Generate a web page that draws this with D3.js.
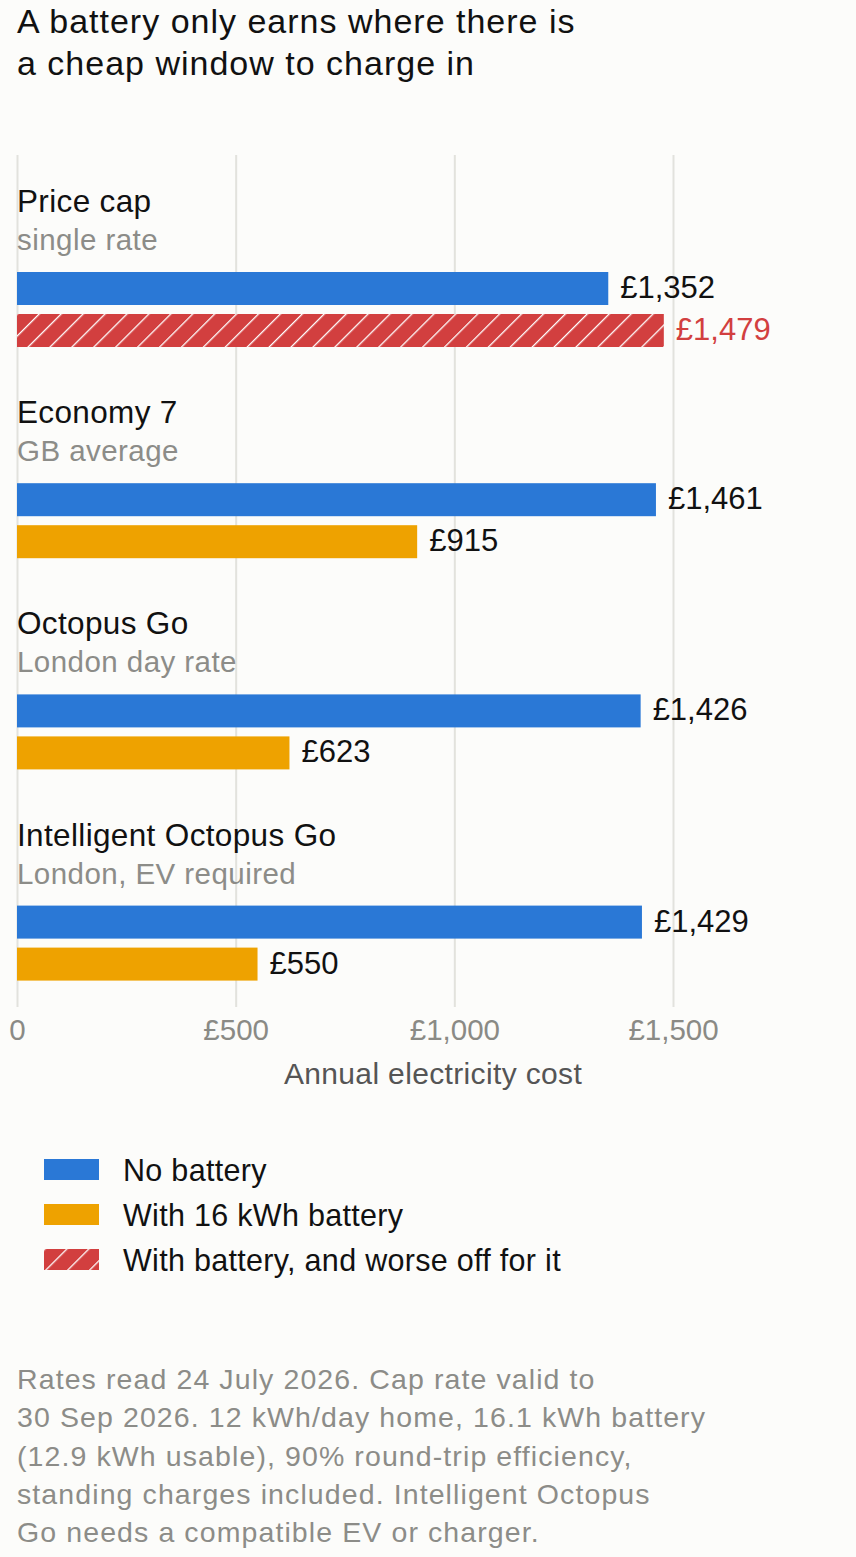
<!DOCTYPE html>
<html>
<head>
<meta charset="utf-8">
<script src="https://cdn.jsdelivr.net/npm/d3@7"></script>
<style>
  html, body { margin: 0; padding: 0; background: #fcfcfa; }
  svg { display: block; font-family: "Liberation Sans", Arial, Helvetica, sans-serif; }
</style>
</head>
<body>
<svg id="drawing_region"></svg>
<script>
// data
const tariffs   = ['Price cap', 'Economy 7', 'Octopus Go', 'Intelligent Octopus Go'];
const subtitles = ['single rate', 'GB average', 'London day rate', 'London, EV required'];
const noBattery   = [1352, 1461, 1426, 1429];
const withBattery = [1479, 915, 623, 550];
const xticks = [0, 500, 1000, 1500];
const legendLabels = ['No battery', 'With 16 kWh battery', 'With battery, and worse off for it'];
const titleLines = ['A battery only earns where there is', 'a cheap window to charge in'];
const noteLines = [
  'Rates read 24 July 2026. Cap rate valid to',
  '30 Sep 2026. 12 kWh/day home, 16.1 kWh battery',
  '(12.9 kWh usable), 90% round-trip efficiency,',
  'standing charges included. Intelligent Octopus',
  'Go needs a compatible EV or charger.'
];

const data = tariffs.map((t, i) => ({
  tariff: t,
  sub: subtitles[i],
  bars: [
    { key: 'none', value: noBattery[i], worse: false },
    { key: 'battery', value: withBattery[i], worse: withBattery[i] > noBattery[i] }
  ]
}));

const W = 856, H = 1557;
const colors = { blue: '#2a78d6', orange: '#eea200', red: '#d23f3f' };

const svg = d3.select('#drawing_region').attr('width', W).attr('height', H);
svg.append('rect').attr('width', W).attr('height', H).attr('fill', '#fcfcfa');

// hatch pattern
const defs = svg.append('defs');
const pat = defs.append('pattern')
  .attr('id', 'hatch')
  .attr('patternUnits', 'userSpaceOnUse')
  .attr('width', 15.5).attr('height', 15.5)
  .attr('patternTransform', 'rotate(45)');
pat.append('rect').attr('width', 15.5).attr('height', 15.5).attr('fill', colors.red);
pat.append('line').attr('x1', 0).attr('y1', 0).attr('x2', 0).attr('y2', 15.5)
  .attr('stroke', '#fff').attr('stroke-width', 2.6);

// title
svg.append('g').selectAll('text')
  .data(titleLines).enter().append('text')
  .attr('x', 17).attr('y', (d, i) => 33 + i * 42)
  .style('font-size', '34px').attr('fill', '#111')
  .style('letter-spacing', '1px')
  .text(d => d);

const xscale = d3.scaleLinear().domain([0, 1500]).range([17, 673]);
const gscale = d3.scaleBand().domain(tariffs).range([155, 155 + 4 * 211.2]);
const bscale = d3.scaleBand().domain(['none', 'battery']).range([117, 192]).paddingInner(0.2143);

// grid
const gridTop = 155, gridBottom = 1007;
svg.append('g').selectAll('line')
  .data(xticks).enter().append('line')
  .attr('x1', d => xscale(d) + 0.5).attr('x2', d => xscale(d) + 0.5)
  .attr('y1', gridTop).attr('y2', gridBottom)
  .attr('stroke', '#e2e2dd').attr('stroke-width', 2);

// x axis labels
const xaxis = d3.axisBottom(xscale)
  .tickValues(xticks)
  .tickSize(0)
  .tickPadding(0)
  .tickFormat(d => d === 0 ? '0' : '£' + d3.format(',')(d));
const xg = svg.append('g').attr('transform', `translate(0, ${gridBottom})`).call(xaxis);
xg.select('.domain').remove();
xg.selectAll('text')
  .attr('dy', null).attr('y', 33)
  .style('font-size', '29.5px')
  .style('font-family', '"Liberation Sans", Arial, sans-serif')
  .attr('fill', '#8a8a85');

svg.append('text')
  .attr('x', 433).attr('y', 1084)
  .attr('text-anchor', 'middle')
  .style('font-size', '30px').attr('fill', '#555')
  .style('letter-spacing', '0.35px')
  .text('Annual electricity cost');

// groups
const groups = svg.append('g').selectAll('g')
  .data(data).enter().append('g')
  .attr('transform', d => `translate(0, ${gscale(d.tariff)})`);

groups.append('text')
  .attr('x', 17).attr('y', 57)
  .style('font-size', '31.5px').attr('fill', '#111')
  .style('letter-spacing', '0.35px')
  .text(d => d.tariff);

groups.append('text')
  .attr('x', 17).attr('y', 95)
  .style('font-size', '29.5px').attr('fill', '#8c8c88')
  .style('letter-spacing', '0.45px')
  .text(d => d.sub);

const bars = groups.selectAll('.bar')
  .data(d => d.bars).enter().append('g').attr('class', 'bar');

bars.append('rect')
  .attr('x', xscale(0))
  .attr('y', d => bscale(d.key))
  .attr('width', d => xscale(d.value) - xscale(0))
  .attr('height', bscale.bandwidth())
  .attr('fill', d => d.worse ? 'url(#hatch)' : (d.key === 'none' ? colors.blue : colors.orange));

bars.append('text')
  .attr('x', d => xscale(d.value) + 12)
  .attr('y', d => bscale(d.key) + bscale.bandwidth() / 2 + 9.5)
  .style('font-size', '31px')
  .attr('fill', d => d.worse ? colors.red : '#111')
  .text(d => '£' + d3.format(',')(d.value));

// legend
const legendFills = [colors.blue, colors.orange, 'url(#hatch)'];
const legend = svg.append('g').selectAll('g')
  .data(legendLabels).enter().append('g')
  .attr('transform', (d, i) => `translate(44, ${1159 + i * 45})`);
legend.append('rect')
  .attr('width', 55).attr('height', 21)
  .attr('fill', (d, i) => legendFills[i]);
legend.append('text')
  .attr('x', 79).attr('y', 22)
  .style('font-size', '30.5px').attr('fill', '#111')
  .style('letter-spacing', '0.3px')
  .text(d => d);

// footnote
svg.append('g').selectAll('text')
  .data(noteLines).enter().append('text')
  .attr('x', 17).attr('y', (d, i) => 1389 + i * 38.3)
  .style('font-size', '28.5px').attr('fill', '#8c8c88')
  .style('letter-spacing', '1.1px')
  .text(d => d);
</script>
</body>
</html>
